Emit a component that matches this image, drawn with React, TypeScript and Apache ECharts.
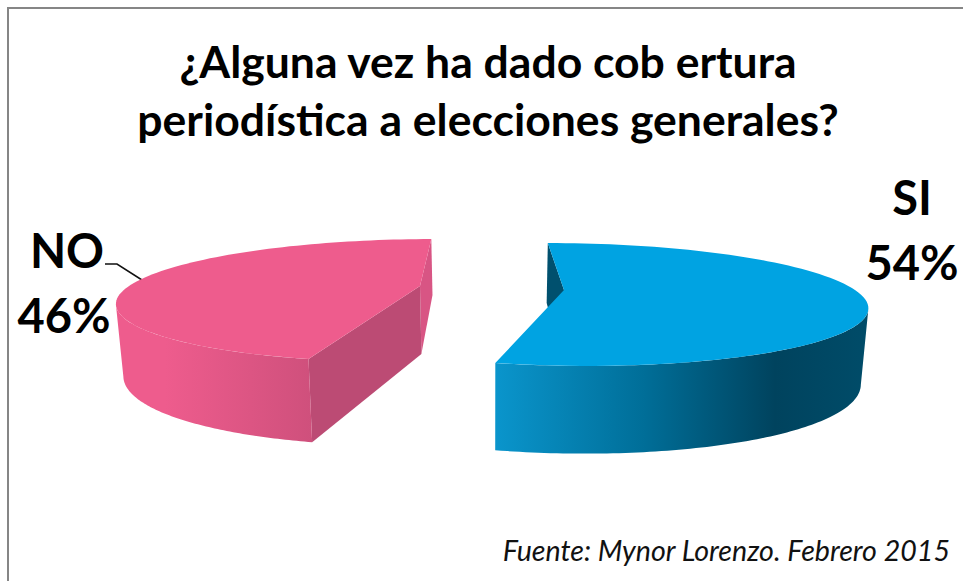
import React, { useEffect, useRef } from "react";
import * as echarts from "echarts";

const titleLines = ["¿Alguna vez ha dado cob ertura", "periodística a elecciones generales?"];
const sourceNote = "Fuente: Mynor Lorenzo. Febrero 2015";
const sliceNames = ["SI", "NO"];
const sliceValues = [54, 46];

const topColors = ["#00A3E2", "#EE5C8D"];
const backWallColors = ["#00506E", "#D85584"];
const frontWallColors = ["#00506E", "#BC4B74"];
const wallStops: [number, string][][] = [
  [[0, "#0A95CC"], [0.4, "#006E98"], [0.75, "#00435E"], [1, "#004C69"]],
  [[0, "#EE5C8D"], [0.25, "#EE5C8D"], [1, "#CF507C"]],
];

// explosion offsets and plane levels for each slice
const offsetX = [74, -70];
const topCentreY = [290, 286];
const bottomCentreY = [362, 354];

const START_ANGLE = -0.5;
const VANISH_X = 490;
const RADIUS_X = 291;
const TOP_B = 58;
const TOP_P = 0.236;
const BOTTOM_B = 71.8;
const BOTTOM_P = 0.2164;
const BOTTOM_SCALE = 0.98;
const SILHOUETTE = 107.5;

function topPoint(deg: number, i: number): number[] {
  const t = (deg * Math.PI) / 180;
  const u = Math.sin(t);
  const v = -Math.cos(t);
  const w = 1 - TOP_P * v;
  return [VANISH_X + (offsetX[i] + RADIUS_X * u) / w, topCentreY[i] + (TOP_B * v) / w];
}

function bottomPoint(deg: number, i: number): number[] {
  const t = (deg * Math.PI) / 180;
  const u = Math.sin(t);
  const v = -Math.cos(t);
  const w = 1 - TOP_P * v;
  const wb = 1 - BOTTOM_P * v;
  return [
    VANISH_X + (BOTTOM_SCALE * (offsetX[i] + RADIUS_X * u)) / w,
    bottomCentreY[i] + (BOTTOM_B * v) / wb,
  ];
}

function sampleArc(from: number, to: number, fn: (d: number, i: number) => number[], i: number) {
  const steps = 90;
  const pts: number[][] = [];
  for (let k = 0; k <= steps; k++) pts.push(fn(from + ((to - from) * k) / steps, i));
  return pts;
}

function renderSlice(params: any, api: any) {
  const i = params.dataIndex;
  const total = sliceValues.reduce((a, b) => a + b, 0);
  const before = sliceValues.slice(0, i).reduce((a, b) => a + b, 0);
  const start = START_ANGLE + (before / total) * 360;
  const end = START_ANGLE + ((before + (api.value(0) as number)) / total) * 360;
  const apexTop = [VANISH_X + offsetX[i], topCentreY[i]];
  const apexBottom = [VANISH_X + BOTTOM_SCALE * offsetX[i], bottomCentreY[i]];

  const wallFrom = Math.max(start, SILHOUETTE);
  const wallTo = Math.min(end, 360 - SILHOUETTE);
  const wall = [...sampleArc(wallFrom, wallTo, topPoint, i), ...sampleArc(wallFrom, wallTo, bottomPoint, i).reverse()];
  const top = [apexTop, ...sampleArc(start, end, topPoint, i)];

  const children: any[] = [];
  const wallAt = (deg: number, fill: string) => ({
    type: "polygon",
    shape: { points: [apexTop, topPoint(deg, i), bottomPoint(deg, i), apexBottom] },
    style: { fill },
  });
  if (i === 0) {
    children.push(wallAt(start, backWallColors[i]));
  } else {
    children.push(wallAt(end, backWallColors[i]));
    children.push(wallAt(start, frontWallColors[i]));
  }
  children.push({
    type: "polygon",
    shape: { points: wall },
    style: {
      fill: new echarts.graphic.LinearGradient(
        0, 0, 1, 0,
        wallStops[i].map(([offset, color]) => ({ offset, color })),
      ),
    },
  });
  children.push({ type: "polygon", shape: { points: top }, style: { fill: topColors[i] } });
  return { type: "group", children };
}

export default function App() {
  const ref = useRef<HTMLDivElement>(null);
  useEffect(() => {
    const chart = echarts.init(ref.current!, undefined, { renderer: "svg" });
    const labelStyle = { fontFamily: "Lato", fontWeight: "bold", fontSize: 47, fill: "#000", textAlign: "center", textVerticalAlign: "middle" };
    chart.setOption({
      animation: false,
      backgroundColor: "#ffffff",
      title: {
        text: titleLines.join("\n"),
        left: 483,
        textAlign: "center",
        top: 26,
        textStyle: { fontFamily: "Lato", fontWeight: "bold", fontSize: 44.5, lineHeight: 58, color: "#000" },
      },
      series: [
        {
          type: "custom",
          coordinateSystem: "none",
          silent: true,
          renderItem: renderSlice,
          data: sliceValues.map((value, i) => ({ name: sliceNames[i], value: [value] })),
        },
      ],
      graphic: [
        { type: "polyline", shape: { points: [[8, 581], [8, 8], [963, 8]] }, style: { stroke: "#868686", lineWidth: 2, fill: "none" } },
        { type: "polyline", shape: { points: [[105, 264], [117, 264], [142, 280]] }, style: { stroke: "#111", lineWidth: 1.5, fill: "none" } },
        { type: "text", x: 912, y: 197, style: { ...labelStyle, text: sliceNames[0] } },
        { type: "text", x: 912, y: 262, style: { ...labelStyle, text: `${sliceValues[0]}%` } },
        { type: "text", x: 67, y: 250, style: { ...labelStyle, text: sliceNames[1] } },
        { type: "text", x: 64, y: 315, style: { ...labelStyle, text: `${sliceValues[1]}%` } },
        { type: "text", x: 950, y: 550, style: { text: sourceNote, fontFamily: "Lato", fontStyle: "italic", fontSize: 28.6, fill: "#111", textAlign: "right", textVerticalAlign: "middle" } },
      ],
    });
    return () => chart.dispose();
  }, []);
  return <div ref={ref} style={{ position: "absolute", left: 0, top: 0, width: 963, height: 581 }} />;
}
